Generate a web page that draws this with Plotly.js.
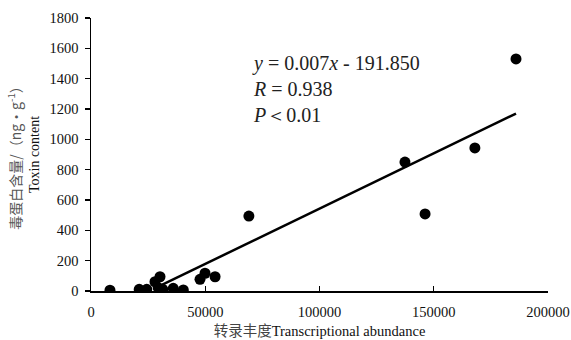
<!DOCTYPE html>
<html><head><meta charset="utf-8">
<script src="https://cdn.plot.ly/plotly-3.0.1.min.js"></script>
<style>html,body{margin:0;padding:0;background:#fff}</style>
</head><body>
<div id="chart" style="width:571px;height:340px"></div>
<script>
const abundance = [8300, 21100, 24400, 28000, 29400, 30200, 31400, 36000, 40400, 47700, 49900, 54300, 69100, 137400, 146200, 168000, 186000];
const toxin = [5, 11, 11, 61, 22, 94, 11, 18, 7, 77, 117, 94, 494, 850, 508, 943, 1530];
const trendX = [31000, 186000];
const trendY = [40, 1170];
const xTicks = [0, 50000, 100000, 150000, 200000];
const yTicks = [0, 200, 400, 600, 800, 1000, 1200, 1400, 1600, 1800];

const serif = '"Liberation Serif", "Times New Roman", serif';
const data = [
  {x: trendX, y: trendY, mode: 'lines', line: {color: '#000', width: 2.5}, hoverinfo: 'skip'},
  {x: abundance, y: toxin, mode: 'markers', marker: {color: '#000', size: 11}}
];
const layout = {
  width: 571, height: 340,
  margin: {l: 91, r: 23, t: 18, b: 49},
  showlegend: false,
  paper_bgcolor: '#fff', plot_bgcolor: '#fff',
  font: {family: serif, color: '#111', size: 14.5},
  xaxis: {
    range: [0, 200000], tickvals: xTicks, ticktext: xTicks.map(String),
    showgrid: false, zeroline: false, showline: true, linecolor: '#000', linewidth: 1.5,
    ticks: 'inside', ticklen: 5, tickcolor: '#000', tickwidth: 1.2,
    ticklabelstandoff: 7,
    tickfont: {family: serif, size: 14.5, color: '#111'},
    title: {text: '<span style="font-family:\'Noto Sans CJK SC\';color:#444">转录丰度</span>Transcriptional abundance', font: {family: serif, size: 14.5, color: '#111'}, standoff: 4}
  },
  yaxis: {
    range: [0, 1800], tickvals: yTicks, ticktext: yTicks.map(String),
    showgrid: false, zeroline: false, showline: true, linecolor: '#000', linewidth: 1.5,
    ticks: 'outside', ticklen: 5, tickcolor: '#000', tickwidth: 1.2,
    ticklabelstandoff: 3,
    tickfont: {family: serif, size: 14.5, color: '#111'},
    title: {text: '<span style="font-family:\'Noto Sans CJK SC\';color:#555">毒蛋白含量/（ng·g<sup>-1</sup>）</span><br>Toxin content', font: {family: serif, size: 14, color: '#111'}, standoff: 6}
  },
  annotations: [
    {xref: 'paper', yref: 'paper', x: 0.348, y: 0.74, xanchor: 'left', yanchor: 'middle', showarrow: false, align: 'left',
     text: '<i>y</i> = 0.007<i>x</i> - 191.850<br><i>R</i> = 0.938<br><i>P</i>＜0.01',
     font: {family: serif, size: 20, color: '#222'}}
  ]
};
Plotly.newPlot('chart', data, layout, {displayModeBar: false, staticPlot: true});
</script>
</body></html>
